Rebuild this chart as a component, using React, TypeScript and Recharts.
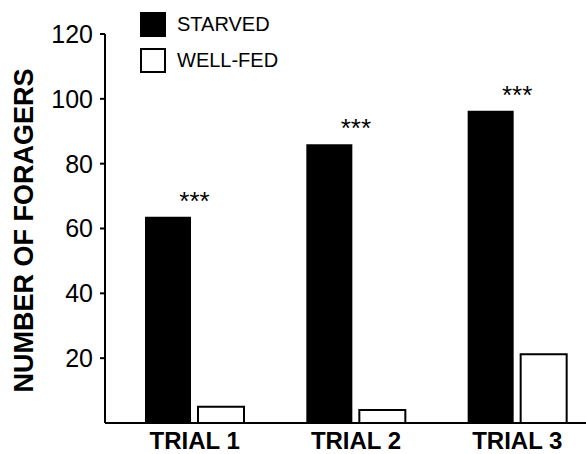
import React from 'react';
import { BarChart, Bar, XAxis, YAxis, Legend, LabelList } from 'recharts';

const categories = ['TRIAL 1', 'TRIAL 2', 'TRIAL 3'];
const starved = [63.6, 86, 96.3];
const wellFed = [5, 4, 21.2];
const significance = ['***', '***', '***'];
const yTicks = [20, 40, 60, 80, 100, 120];
const seriesNames = ['STARVED', 'WELL-FED'];
const seriesFills = ['#000000', '#ffffff'];
const yAxisTitle = 'NUMBER OF FORAGERS';

const data = categories.map((c, i) => ({
  trial: c,
  starved: starved[i],
  wellFed: wellFed[i],
  sig: significance[i],
}));

const FONT = '"Liberation Sans", Arial, Helvetica, sans-serif';

const renderXTick = (props: any) => {
  const { x, y, payload } = props;
  return (
    <text x={x} y={Number(y) + 25.5} textAnchor="middle" fontFamily={FONT} fontWeight="bold" fontSize={24} fill="#000">
      {payload.value}
    </text>
  );
};

const renderYLabel = (props: any) => {
  const vb = props.viewBox || {};
  const cx = 33;
  const cy = Number(vb.y ?? 34) + Number(vb.height ?? 389) / 2 + 2;
  return (
    <text
      x={cx}
      y={cy}
      transform={`rotate(-90 ${cx} ${cy})`}
      textAnchor="middle"
      fontFamily={FONT}
      fontWeight="bold"
      fontSize={27}
      fill="#000"
    >
      {yAxisTitle}
    </text>
  );
};

const renderSig = (props: any) => {
  const { x, y, width, value } = props;
  return (
    <text
      x={Number(x) + Number(width) + 3.5}
      y={Number(y) - 7}
      textAnchor="middle"
      fontFamily={FONT}
      fontSize={26}
      fill="#000"
    >
      {value}
    </text>
  );
};

const renderLegend = () => (
  <div style={{ fontFamily: FONT, fontSize: 20, color: '#000' }}>
    {seriesNames.map((n, i) => (
      <div
        key={n}
        style={{ display: 'flex', alignItems: 'center', height: 25, marginBottom: i === 0 ? 11 : 0 }}
      >
        <div
          style={{
            width: 26,
            height: 25,
            boxSizing: 'border-box',
            background: seriesFills[i],
            border: '2px solid #000',
          }}
        />
        <span style={{ marginLeft: 11, lineHeight: '25px' }}>{n}</span>
      </div>
    ))}
  </div>
);

export default function App() {
  return (
    <div style={{ position: 'absolute', left: 0, top: 0, background: '#fff' }}>
      <BarChart
        width={586}
        height={454}
        data={data}
        margin={{ top: 34, right: -12, bottom: 0, left: 0 }}
        barGap={7}
        barSize={46}
      >
        <XAxis
          dataKey="trial"
          height={31}
          padding={{ left: 9, right: 0 }}
          axisLine={{ stroke: '#000', strokeWidth: 2 }}
          tickLine={false}
          tickSize={0}
          tickMargin={0}
          tick={renderXTick}
          interval={0}
        />
        <YAxis
          width={105}
          domain={[0, 120]}
          ticks={yTicks}
          interval={0}
          axisLine={{ stroke: '#000', strokeWidth: 2 }}
          tickLine={{ stroke: '#000', strokeWidth: 2 }}
          tickSize={5}
          tickMargin={7}
          tick={{ fill: '#000', fontSize: 25, fontFamily: FONT }}
          label={{ content: renderYLabel }}
        />
        <Legend
          layout="vertical"
          align="center"
          verticalAlign="middle"
          wrapperStyle={{ left: 140, top: 12 }}
          content={renderLegend}
        />
        <Bar dataKey="starved" name={seriesNames[0]} fill={seriesFills[0]} isAnimationActive={false}>
          <LabelList dataKey="sig" content={renderSig} />
        </Bar>
        <Bar
          dataKey="wellFed"
          name={seriesNames[1]}
          fill={seriesFills[1]}
          stroke="#000"
          strokeWidth={2}
          isAnimationActive={false}
        />
      </BarChart>
    </div>
  );
}
